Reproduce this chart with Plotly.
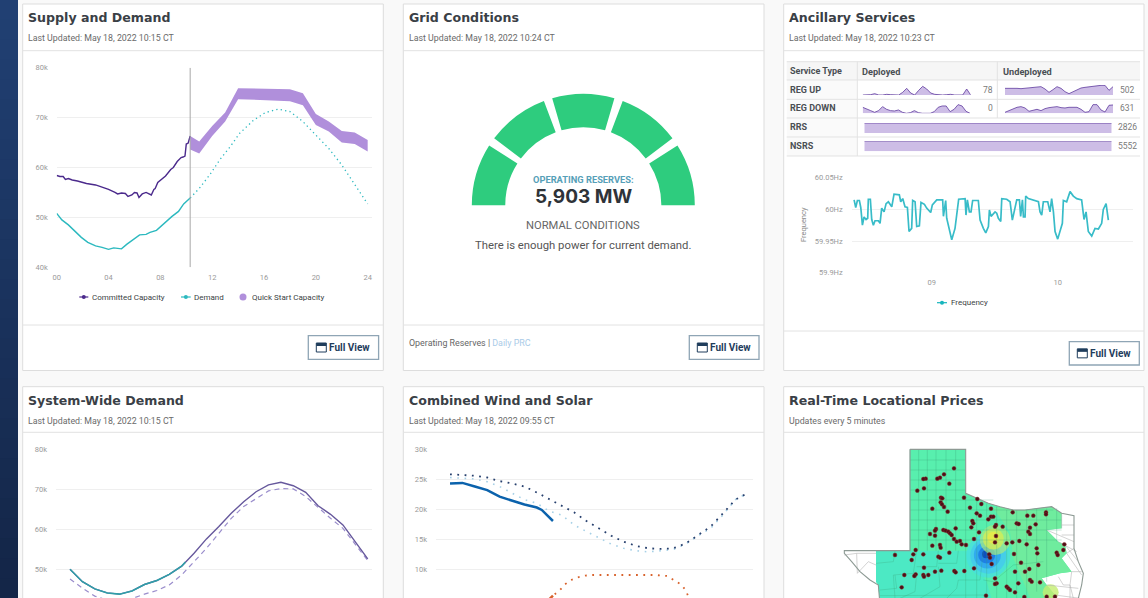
import plotly.graph_objects as go

W, H = 1148, 598

# ---------------- DATA ----------------
hour_ticks = [0, 4, 8, 12, 16, 20, 24]
hour_labels = ["00", "04", "08", "12", "16", "20", "24"]
supply_y_ticks = [40000, 50000, 60000, 70000, 80000]
supply_y_labels = ["40k", "50k", "60k", "70k", "80k"]

committed_h = [0, 0.25, 0.5, 0.67, 0.9, 1.2, 1.6, 2.3, 3.0, 3.4, 3.5, 4.0, 4.5, 4.7, 5.0, 5.3, 5.5, 5.8, 6.0, 6.2, 6.35, 6.6, 6.9, 7.1, 7.3, 7.5, 7.6, 7.8, 8.0, 8.4, 8.8, 9.0, 9.3, 9.6, 9.75, 9.9, 10.0, 10.15, 10.3]
committed_k = [58.4, 58.2, 58.2, 57.6, 57.8, 57.5, 57.3, 56.8, 56.5, 56.2, 56.0, 55.6, 55.0, 54.7, 54.9, 54.8, 54.2, 54.5, 55.0, 54.9, 54.0, 54.7, 55.0, 54.8, 54.5, 55.6, 55.8, 57.0, 57.5, 58.3, 59.6, 60.0, 61.2, 62.0, 62.1, 62.3, 64.7, 64.9, 66.3]
demand_h = [0, 0.4, 0.9, 1.4, 1.9, 2.4, 3.0, 3.5, 4.0, 4.4, 4.8, 5.0, 5.4, 6.0, 6.4, 6.9, 7.2, 7.7, 8.4, 8.9, 9.4, 9.8, 10.3]
demand_k = [50.8, 49.5, 48.5, 47.2, 46.0, 45.0, 44.3, 44.0, 43.6, 43.9, 43.7, 43.7, 44.6, 45.7, 46.5, 46.6, 47.0, 47.4, 49.1, 50.2, 51.2, 52.7, 53.9]
forecast_h = [10.3, 11, 11.8, 12.6, 13.4, 14.1, 15.2, 16.1, 17.1, 18, 19, 20, 21, 22, 23.1, 24]
forecast_k = [53.9, 55.8, 58.5, 61.6, 64.2, 66.8, 69.5, 71.0, 71.7, 71.2, 69.2, 66.5, 63.8, 60.5, 56.2, 52.7]
quick_h = [10.3, 11, 12, 13, 14, 15, 16, 17, 18, 19, 20, 21, 22, 23, 24]
quick_top_k = [66.3, 65.2, 68.3, 71.0, 75.9, 75.85, 75.8, 75.75, 75.7, 74.9, 70.7, 69.2, 67.3, 67.0, 65.5]
quick_bot_k = [63.6, 62.8, 66.3, 69.2, 73.7, 73.6, 73.5, 73.4, 73.3, 72.5, 68.5, 67.2, 65.0, 64.7, 63.2]
now_hour = 10.3

gauge_values = [32.4, 4.5, 32.4, 4.5, 32.4, 4.5, 32.4, 4.5, 32.4, 180]
gauge_colors = ["#2ecc7e", "rgba(0,0,0,0)"] * 4 + ["#2ecc7e", "rgba(0,0,0,0)"]

reg_up_dep = [0, 0, 1, 4, 0, 0, 2, 1, 0, 0, 8, 20, 6, 0, 14, 26, 18, 6, 2, 0, 0, 1, 2, 0, 0, 0, 18, 0]
reg_up_und = [20, 20, 22, 20, 19, 20, 21, 22, 25, 25, 18, 8, 16, 25, 20, 10, 4, 10, 16, 21, 23, 25, 26, 28, 29, 29, 14, 25]
reg_dn_dep = [18, 14, 8, 3, 8, 20, 12, 8, 7, 10, 3, 0, 2, 8, 2, 0, 0, 0, 5, 18, 22, 22, 5, 12, 26, 22, 6, 0]
reg_dn_und = [3, 8, 14, 18, 20, 16, 6, 10, 12, 8, 14, 17, 19, 20, 17, 16, 18, 19, 18, 12, 3, 5, 26, 26, 10, 4, 24, 25]
rrs_vals = [2826, 2826, 2826, 2826, 2826, 2826, 2826, 2826, 2800, 2800]
nsrs_vals = [5552, 5552, 5552, 5552, 5552, 5552, 5552, 5552, 5552, 5552]

freq_h = [8.384, 8.397, 8.410, 8.426, 8.437, 8.450, 8.463, 8.479, 8.492, 8.497, 8.513, 8.524, 8.537, 8.550, 8.577, 8.590, 8.603, 8.622, 8.638, 8.656, 8.683, 8.701, 8.743, 8.754, 8.770, 8.788, 8.807, 8.820, 8.841, 8.849, 8.868, 8.881, 8.902, 8.915, 8.942, 8.960, 8.992, 9.005, 9.040, 9.087, 9.093, 9.111, 9.119, 9.138, 9.159, 9.185, 9.198, 9.214, 9.265, 9.272, 9.283, 9.299, 9.312, 9.325, 9.370, 9.384, 9.410, 9.429, 9.450, 9.458, 9.471, 9.503, 9.516, 9.529, 9.548, 9.556, 9.595, 9.622, 9.640, 9.656, 9.675, 9.696, 9.706, 9.720, 9.728, 9.741, 9.746, 9.767, 9.807, 9.847, 9.860, 9.873, 9.886, 9.921, 9.939, 9.952, 9.966, 9.979, 10.0, 10.019, 10.037, 10.045, 10.071, 10.098, 10.124, 10.151, 10.190, 10.209, 10.225, 10.243, 10.270, 10.296, 10.323, 10.349, 10.362, 10.384, 10.402]
freq_hz = [60.015, 60.003, 60.014, 60.014, 60.003, 59.975, 59.988, 59.984, 59.986, 60.016, 60.016, 59.984, 59.975, 59.982, 59.982, 59.978, 60.002, 59.996, 60.009, 60.012, 60.004, 60.024, 60.023, 60.012, 60.017, 60.004, 60.003, 59.965, 59.970, 60.014, 60.012, 59.973, 59.974, 60.011, 60.008, 60.002, 59.995, 60.007, 60.015, 60.015, 59.989, 60.014, 59.986, 59.967, 59.952, 59.970, 59.988, 60.016, 60.017, 59.991, 60.015, 59.996, 59.996, 60.014, 60.014, 59.983, 59.970, 59.963, 59.973, 59.999, 59.989, 59.996, 59.994, 59.986, 59.981, 60.017, 60.016, 60.012, 59.983, 59.999, 60.015, 60.015, 59.989, 60.015, 59.988, 59.988, 60.021, 60.017, 60.014, 60.012, 59.996, 59.991, 60.012, 60.012, 59.996, 60.017, 59.996, 59.965, 59.953, 59.965, 59.978, 60.014, 60.012, 60.028, 60.021, 60.017, 60.015, 59.984, 59.996, 59.965, 59.958, 59.970, 59.969, 59.978, 60.0, 60.009, 59.983]
freq_ticks = [59.9, 59.95, 60, 60.05]
freq_tick_labels = ["59.9Hz", "59.95Hz", "60Hz", "60.05Hz"]

sys_hours = list(range(25))
sys_actual_k = [50.0, 46.9, 45.1, 44.1, 43.8, 44.6, 46.2, 47.2, 48.75, 50.8, 54.0, 57.6, 60.7, 64.0, 66.9, 69.4, 71.1, 71.75, 70.9, 69.25, 65.9, 63.75, 61.1, 56.9, 52.6]
sys_fcst_k = [47.6, 45.3, 43.3, 42.3, 41.9, 42.7, 43.8, 44.7, 46.1, 48.6, 51.9, 55.25, 59.0, 62.75, 65.7, 67.75, 69.6, 70.2, 70.1, 68.2, 65.4, 62.75, 60.25, 56.1, 52.2]
sys_today_h = [0, 1, 2, 3, 4, 5, 6, 7, 8, 9, 9.3]
sys_today_k = [50.0, 46.9, 45.1, 44.1, 43.8, 44.6, 46.2, 47.2, 48.75, 50.8, 51.8]

wind_h = [0, 1, 2, 3, 4, 5, 6, 7, 7.4, 8.3]
wind_k = [24.3, 24.4, 23.8, 23.2, 22.1, 21.4, 20.8, 20.3, 19.9, 18.05]
wind_fcst_dark_k = [25.83, 25.72, 25.6, 25.3, 24.7, 24.3, 23.8, 22.8, 21.7, 20.6, 19.5, 18.05, 16.8, 15.6, 14.6, 13.9, 13.5, 13.4, 13.5, 14.3, 15.7, 17.1, 19.3, 21.6, 22.7]
wind_fcst_light_k = [25.3, 25.2, 25.05, 24.6, 23.8, 22.7, 21.6, 21.0, 19.7, 19.05, 17.4, 16.3, 15.3, 14.2, 13.5, 13.1, 12.9, 13.05, 13.3, 14.2, 15.6, 16.8, 19.05, 21.6, 22.7]
solar_fcst_h = [7.0, 7.6, 8.3, 8.87, 9.27, 9.73, 10.3, 10.9, 11.5, 12.5, 13.5, 14.5, 15.5, 16.5, 17.5, 18.1, 18.6, 19, 19.2, 19.6, 20.2]
solar_fcst_k = [2.0, 3.5, 5.6, 6.55, 7.5, 8.2, 8.67, 8.95, 9.05, 9.05, 9.05, 9.05, 9.05, 9.05, 8.9, 8.2, 7.5, 6.55, 5.45, 3.5, 1.5]
solar_h = [7.0, 7.6, 8.0, 8.3]
solar_k = [2.0, 3.5, 5.0, 5.6]
wind_y_ticks = [5000, 10000, 15000, 20000, 25000, 30000]
wind_y_labels = ["5k", "10k", "15k", "20k", "25k", "30k"]

# Map, in map units
tx_outline_x = [390, 557, 557, 590, 625, 660, 700, 735, 770, 815, 845, 882, 882, 895, 910, 905, 895, 885, 885, 300, 295, 270, 240, 215, 193, 193, 390, 390]
tx_outline_y = [193, 193, 325, 340, 355, 365, 375, 375, 370, 365, 385, 392, 490, 530, 565, 600, 640, 660, 660, 660, 600, 585, 560, 530, 505, 497, 497, 193]
green_x = [390, 557, 557, 590, 625, 660, 700, 735, 770, 815, 845, 845, 800, 820, 835, 855, 860, 845, 860, 875, 840, 800, 785, 800, 825, 835, 300, 295, 288, 288, 390]
green_y = [193, 193, 325, 340, 355, 365, 375, 375, 370, 365, 385, 430, 435, 455, 470, 480, 505, 520, 540, 560, 565, 575, 580, 600, 630, 660, 660, 600, 590, 497, 497]
west_zone_x = [288, 570, 590, 620, 640, 300, 295, 288]
west_zone_y = [497, 497, 540, 590, 660, 660, 600, 590]
east_zone_x = [640, 660, 700, 735, 770, 815, 845, 845, 800, 820, 835, 855, 860, 845, 860, 875, 840, 800, 785, 800, 825, 835, 760, 730, 700, 690]
east_zone_y = [370, 365, 375, 375, 370, 365, 385, 430, 435, 455, 470, 480, 505, 520, 540, 560, 565, 575, 580, 600, 630, 660, 660, 590, 520, 440]
spot_x = [625, 625, 622, 620, 618, 645, 640, 640, 812]
spot_y = [512, 512, 510, 510, 508, 465, 462, 458, 622]
spot_size = [44, 36, 27, 17, 8, 30, 21, 12, 16]
spot_color = ["#47dfe0", "#44c8ec", "#2ea4ee", "#1c78e2", "#0c4ab8", "#a8ec80", "#d2ec58", "#e8ea48", "#c4ee70"]
spot_alpha = [0.75, 0.8, 0.85, 0.85, 0.9, 0.7, 0.8, 0.85, 0.8]
county_v = [416, 442, 468, 498, 527, 390, 557, 590, 620, 650, 680, 710, 740, 770, 800, 830]
county_v_top = [193, 193, 193, 193, 193, 193, 325, 340, 355, 365, 375, 375, 375, 370, 370, 370]
county_v_bot = [497, 497, 497, 497, 497, 497, 640, 640, 640, 640, 640, 640, 640, 620, 590, 470]
county_h = [225, 255, 285, 315, 345, 375, 405, 435, 465]
county_h_left = [390, 390, 390, 390, 390, 390, 390, 390, 390]
county_h_right = [557, 557, 557, 557, 640, 820, 845, 845, 845]
south_x = [288, 340, 345, None, 340, 400, 410, None, 410, 470, 475, None, 475, 530, 535, None, 535, 600, 610, None, 345, 350, 300, None, 410, 405, 360, None, 475, 480, 420, None, 535, 530, 500, None, 300, 620, None, 340, 345, None, 610, 640, 700, 790]
south_y = [535, 530, 497, None, 570, 565, 497, None, 545, 545, 497, None, 535, 535, 497, None, 585, 585, 497, None, 570, 610, 615, None, 565, 620, 640, None, 545, 605, 640, None, 585, 610, 640, None, 632, 630, None, 570, 640, None, 585, 590, 540, 530]
white_x = [193, 230, 288, None, 230, 232, 265, None, 288, 265, None, 845, 882, None, 845, 882, None, 800, 882, None, 835, 890, None, 855, 895, None, 860, 905, None, 875, 905, None, 800, 895, None, 845, 845, None, 882, 860, None, 875, 870, 880, None, 825, 900, None, 835, 850, 870, 870]
white_y = [510, 505, 505, None, 505, 565, 530, None, 540, 530, None, 420, 420, None, 450, 450, None, 435, 470, None, 470, 500, None, 480, 530, None, 505, 570, None, 560, 560, None, 600, 610, None, 385, 430, None, 490, 505, None, 560, 600, 640, None, 630, 640, None, 575, 600, 600, 640]
node_x = [522, 492, 480, 472, 437, 430, 508, 432, 412, 483, 487, 552, 482, 486, 492, 457, 503, 570, 592, 604, 633, 590, 600, 698, 742, 760, 798, 798, 633, 640, 625, 577, 580, 574, 648, 645, 668, 710, 716, 750, 767, 745, 750, 468, 465, 490, 497, 505, 510, 527, 597, 582, 450, 465, 515, 522, 530, 540, 545, 558, 648, 645, 680, 697, 718, 740, 457, 480, 482, 407, 345, 430, 395, 400, 508, 475, 480, 628, 630, 635, 432, 484, 465, 407, 403, 373, 430, 432, 445, 523, 527, 553, 582, 705, 735, 748, 775, 772, 770, 702, 830, 833, 850, 853, 723, 365, 645, 650, 680, 685, 690, 705, 645, 750, 755, 780, 715, 618, 733, 800, 825]
node_y = [250, 268, 278, 281, 281, 282, 296, 310, 317, 338, 340, 338, 352, 358, 366, 371, 380, 368, 342, 357, 371, 385, 392, 382, 392, 392, 382, 388, 395, 395, 403, 408, 415, 427, 420, 425, 425, 415, 417, 428, 418, 440, 447, 432, 437, 435, 437, 440, 445, 430, 442, 462, 447, 452, 450, 462, 470, 468, 478, 480, 453, 472, 475, 472, 468, 478, 482, 480, 488, 495, 510, 508, 525, 508, 503, 515, 518, 508, 518, 537, 548, 557, 560, 568, 573, 570, 570, 575, 570, 558, 562, 558, 550, 560, 560, 552, 540, 505, 490, 507, 503, 510, 495, 478, 533, 607, 580, 595, 605, 610, 615, 622, 597, 585, 590, 592, 595, 632, 636, 635, 635]

# ---------------- HELPERS ----------------
def px(x):
    return x / W

def py(y):
    return 1 - y / H

shapes = []
annots = []

def rect(x0, y0, x1, y1, fill=None, line=None, lw=1):
    shapes.append(dict(type="rect", xref="paper", yref="paper", layer="below",
                       x0=px(x0), x1=px(x1), y0=py(y0), y1=py(y1),
                       fillcolor=fill or "rgba(0,0,0,0)",
                       line=dict(color=line or "rgba(0,0,0,0)", width=lw if line else 0)))

def hline(x0, x1, y, color="#e2e2e2", lw=1):
    shapes.append(dict(type="line", xref="paper", yref="paper", layer="below",
                       x0=px(x0), x1=px(x1), y0=py(y), y1=py(y), line=dict(color=color, width=lw)))

def vline(x, y0, y1, color="#e2e2e2", lw=1, layer="below"):
    shapes.append(dict(type="line", xref="paper", yref="paper", layer=layer,
                       x0=px(x), x1=px(x), y0=py(y0), y1=py(y1), line=dict(color=color, width=lw)))

def text(x, y, s, size=8, color="#555", family="Roboto", anchor="left", angle=0):
    annots.append(dict(xref="paper", yref="paper", x=px(x), y=py(y), text=s, showarrow=False,
                       xanchor=anchor, yanchor="middle", textangle=angle, borderpad=0, borderwidth=0,
                       font=dict(size=size, color=color, family=family)))

TITLE_FONT = "DejaVu Sans"
def card(x0, x1, y0, y1, title, sub, ydiv=None, yfoot=None):
    rect(x0, y0, x1, y1, fill="#ffffff", line="#dddddd", lw=1)
    hline(x0, x1, ydiv)
    if yfoot:
        hline(x0, x1, yfoot)
    text(x0 + 5.5, y0 + 13.5, "<b>" + title + "</b>", size=12.6, color="#3a4046", family=TITLE_FONT)
    text(x0 + 5.5, y0 + 34, sub, size=8.8, color="#6a6a6a")

def button(x0, y0, x1, y1):
    rect(x0, y0, x1, y1, fill="#ffffff", line="#8fa5b5", lw=1.3)
    cy = (y0 + y1) / 2
    rect(x0 + 8, cy - 4.5, x0 + 18, cy + 4.5, fill="#ffffff", line="#1f3d5c", lw=1)
    rect(x0 + 8, cy - 4.5, x0 + 18, cy - 1.5, fill="#1f3d5c")
    text(x0 + 20.5, cy, "<b>Full View</b>", size=10, color="#1f3d5c")

# ---------------- PAGE ----------------
for i in range(30):
    t = i / 29
    c = "rgb(%d,%d,%d)" % (33 - 13 * t, 64 - 26 * t, 115 - 43 * t)
    rect(0, H * i / 30, 18, H * (i + 1) / 30 + 1, fill=c)

card(22.7, 383.3, 4, 370.5, "Supply and Demand", "Last Updated: May 18, 2022 10:15 CT", 50.7, 325)
card(403.3, 764, 4, 370.5, "Grid Conditions", "Last Updated: May 18, 2022 10:24 CT", 50.7, 325)
card(783.7, 1144, 4, 370.5, "Ancillary Services", "Last Updated: May 18, 2022 10:23 CT", 50.7, 331)
card(22.7, 383.3, 386.7, 610, "System-Wide Demand", "Last Updated: May 18, 2022 10:15 CT", 432.3)
card(403.3, 764, 386.7, 610, "Combined Wind and Solar", "Last Updated: May 18, 2022 09:55 CT", 432.3)
card(783.7, 1144, 386.7, 610, "Real-Time Locational Prices", "Updates every 5 minutes", 432.3)
button(308.3, 335.7, 378.6, 359.3)
button(689.3, 335.7, 759, 359.3)
button(1069.3, 341.7, 1139.3, 365)

fig = go.Figure()
axes = {}
ax_n = [0]

def add_axes(x0, x1, y0, y1, xr, yr, xcfg=None, ycfg=None):
    """Create an axis pair placed at the given pixel box; returns trace refs."""
    ax_n[0] += 1
    n = ax_n[0]
    s = "" if n == 1 else str(n)
    xa = dict(domain=[px(x0), px(x1)], range=xr, visible=False, anchor="y" + s, fixedrange=True)
    ya = dict(domain=[py(y1), py(y0)], range=yr, visible=False, anchor="x" + s, fixedrange=True)
    xa.update(xcfg or {})
    ya.update(ycfg or {})
    axes["xaxis" + s] = xa
    axes["yaxis" + s] = ya
    return "x" + s, "y" + s

GRID = "#efefef"
LABEL = "#9a9a9a"
def xticks(vals, labels):
    return dict(visible=True, tickvals=vals, ticktext=labels, showgrid=False, zeroline=False, ticks="",
                showline=False, tickfont=dict(size=7.5, color=LABEL, family="Roboto"), ticklabelstandoff=4)

def yticks(vals, labels):
    return dict(visible=True, tickvals=vals, ticktext=labels, showgrid=True, gridcolor=GRID, gridwidth=1,
                zeroline=False, ticks="", showline=False,
                tickfont=dict(size=7.5, color=LABEL, family="Roboto"), ticklabelstandoff=8)

def k(vs):
    return [v * 1000 for v in vs]

# ---- Supply and demand
x_a, y_a = add_axes(56.7, 371.7, 67.7, 267.3, [0, 24.31], [40000, 80000],
                    xticks(hour_ticks, hour_labels), yticks(supply_y_ticks, supply_y_labels))
PURPLE_D, TEAL, LAV = "#4b2a8c", "#2cb9bf", "#b08fdb"
fig.add_trace(go.Scatter(x=quick_h, y=k(quick_top_k), xaxis=x_a, yaxis=y_a, mode="lines", line=dict(width=0, color=LAV), showlegend=False, hoverinfo="skip"))
fig.add_trace(go.Scatter(x=quick_h, y=k(quick_bot_k), xaxis=x_a, yaxis=y_a, mode="lines", line=dict(width=0, color=LAV), fill="tonexty", fillcolor=LAV, name="Quick Start Capacity", showlegend=False))
fig.add_trace(go.Scatter(x=committed_h, y=k(committed_k), xaxis=x_a, yaxis=y_a, mode="lines", line=dict(width=1.4, color=PURPLE_D), name="Committed Capacity", showlegend=False))
fig.add_trace(go.Scatter(x=demand_h, y=k(demand_k), xaxis=x_a, yaxis=y_a, mode="lines", line=dict(width=1.4, color=TEAL), name="Demand", showlegend=False))
fig.add_trace(go.Scatter(x=forecast_h, y=k(forecast_k), xaxis=x_a, yaxis=y_a, mode="lines", line=dict(width=1.3, color=TEAL, dash="1.3px,3.2px"), name="Demand forecast", showlegend=False))
fig.add_trace(go.Scatter(x=[now_hour, now_hour], y=[40000, 80000], xaxis=x_a, yaxis=y_a, mode="lines", line=dict(width=1, color="#a8a8a8"), showlegend=False, hoverinfo="skip"))

def key_line(x0, x1, y, color):
    hline(x0, x1, y, color=color, lw=1.2)
    cx = (x0 + x1) / 2
    shapes.append(dict(type="circle", xref="paper", yref="paper", layer="below", x0=px(cx - 2), x1=px(cx + 2), y0=py(y + 2), y1=py(y - 2), fillcolor=color, line=dict(width=0)))

LEG_TXT = "#3b3f44"
key_line(79.3, 88.3, 297, PURPLE_D)
text(92, 297, "Committed Capacity", size=8, color=LEG_TXT, family="Roboto")
key_line(181, 190.7, 297, TEAL)
text(194, 297, "Demand", size=8, color=LEG_TXT)
shapes.append(dict(type="circle", xref="paper", yref="paper", layer="below", x0=px(239.5), x1=px(246.5), y0=py(300.5), y1=py(293.5), fillcolor=LAV, line=dict(width=0)))
text(251.5, 297, "Quick Start Capacity", size=8, color=LEG_TXT)

# ---- Gauge
fig.add_trace(go.Pie(values=gauge_values, sort=False, direction="clockwise", rotation=270, hole=0.70,
                     marker=dict(colors=gauge_colors, line=dict(width=0)), textinfo="none", hoverinfo="skip",
                     showlegend=False,
                     domain=dict(x=[px(583.3 - 111.5), px(583.3 + 111.5)], y=[py(205.3 + 111.5), py(205.3 - 111.5)])))
text(583.3, 179, "<b>OPERATING RESERVES:</b>", size=9.3, color="#56a0b8", anchor="center")
text(583.3, 196.5, "<b>5,903 MW</b>", size=19, color="#2f3338", family="Inter", anchor="center")
text(583.3, 225.7, "NORMAL CONDITIONS", size=11.2, color="#666666", anchor="center")
text(583.3, 245, "There is enough power for current demand.", size=11.3, color="#555555", anchor="center")
text(408.5, 343.3, 'Operating Reserves | <span style="color:#a9cbe8">Daily PRC</span>', size=8.9, color="#666666")

# ---- Ancillary table
TBL = "#e3e3e3"
rect(786.7, 61.7, 1140, 80, fill="#f6f6f6")
rect(786.7, 80, 857.3, 156, fill="#fafafa")
for yy in [61.7, 80, 99.3, 118, 137, 156]:
    hline(786.7, 1140, yy, color=TBL)
vline(857.3, 61.7, 156, color=TBL)
vline(997.3, 61.7, 118, color=TBL)
text(790, 71, "<b>Service Type</b>", size=9, color="#4a4f54")
text(862, 71, "<b>Deployed</b>", size=9.2, color="#4a4f54")
text(1003, 71, "<b>Undeployed</b>", size=9.2, color="#4a4f54")
for yy, s in [(89.5, "REG UP"), (108.3, "REG DOWN"), (127, "RRS"), (146, "NSRS")]:
    text(790, yy, "<b>" + s + "</b>", size=9, color="#4a4f54")
for xx, yy, s in [(988, 89.5, "78"), (1127, 89.5, "502"), (990, 108.3, "0"), (1127, 108.3, "631"), (1127, 127, "2826"), (1127, 146, "5552")]:
    text(xx, yy, s, size=8.5, color="#7a7a7a", anchor="center")

SPARK_F, SPARK_L = "#cdbde6", "#5f3b9e"
def spark(vals, x0, x1, y0, y1, ymax):
    xa, ya = add_axes(x0, x1, y0, y1, [0, len(vals) - 1], [0, ymax])
    fig.add_trace(go.Scatter(x=list(range(len(vals))), y=vals, xaxis=xa, yaxis=ya, mode="lines", fill="tozeroy",
                             fillcolor=SPARK_F, line=dict(color=SPARK_L, width=0.8), showlegend=False, hoverinfo="skip"))

spark(reg_up_dep, 862.7, 970.7, 85, 95, 30)
spark(reg_up_und, 1005, 1113, 85, 95, 30)
spark(reg_dn_dep, 862.7, 970, 103.3, 113.3, 30)
spark(reg_dn_und, 1005, 1113, 103.3, 113.3, 30)
spark(rrs_vals, 864.3, 1111.7, 123, 133, 2826)
spark(nsrs_vals, 864.3, 1111.7, 141.3, 151.3, 5552)

# ---- Frequency
x_f, y_f = add_axes(851.7, 1133.3, 177.7, 272.7, [8.365, 10.6], [59.9, 60.05],
                    xticks([9, 10], ["09", "10"]), yticks(freq_ticks, freq_tick_labels))
fig.add_trace(go.Scatter(x=freq_h, y=freq_hz, xaxis=x_f, yaxis=y_f, mode="lines", line=dict(width=1.7, color="#38bcc8"), name="Frequency", showlegend=False))
text(803, 225, "Frequency", size=7.5, color="#8a8a8a", anchor="center", angle=-90)
key_line(937, 947, 302.7, "#16b5bd")
text(951, 302.7, "Frequency", size=8, color=LEG_TXT)

# ---- System-wide
x_s, y_s = add_axes(56, 371.7, 449.3, 598, [-1.13, 24.32], [42830, 80000],
                    None, yticks([50000, 60000, 70000, 80000], ["50k", "60k", "70k", "80k"]))
fig.add_trace(go.Scatter(x=sys_hours, y=k(sys_fcst_k), xaxis=x_s, yaxis=y_s, mode="lines", line=dict(width=1.2, color="#9a8dcc", dash="5px,4px"), name="Forecast", showlegend=False))
fig.add_trace(go.Scatter(x=sys_hours, y=k(sys_actual_k), xaxis=x_s, yaxis=y_s, mode="lines", line=dict(width=1.4, color="#66589c"), name="Actual", showlegend=False))
fig.add_trace(go.Scatter(x=sys_today_h, y=k(sys_today_k), xaxis=x_s, yaxis=y_s, mode="lines", line=dict(width=1.5, color="#2f9fa8"), name="Today", showlegend=False))

# ---- Wind and solar
x_w, y_w = add_axes(436, 753, 449.3, 598, [-1.13, 24.43], [5220, 30000],
                    None, yticks(wind_y_ticks, wind_y_labels))
fig.add_trace(go.Scatter(x=sys_hours, y=k(wind_fcst_light_k), xaxis=x_w, yaxis=y_w, mode="lines", line=dict(width=1.6, color="#a6d0e6", dash="1.6px,5.7px"), showlegend=False, name="Wind forecast B"))
fig.add_trace(go.Scatter(x=sys_hours, y=k(wind_fcst_dark_k), xaxis=x_w, yaxis=y_w, mode="lines", line=dict(width=1.8, color="#27406e", dash="1.8px,5.5px"), showlegend=False, name="Wind forecast A"))
fig.add_trace(go.Scatter(x=wind_h, y=k(wind_k), xaxis=x_w, yaxis=y_w, mode="lines", line=dict(width=2.5, color="#0b62ac"), showlegend=False, name="Wind"))
fig.add_trace(go.Scatter(x=solar_fcst_h, y=k(solar_fcst_k), xaxis=x_w, yaxis=y_w, mode="lines", line=dict(width=1.8, color="#d8622c", dash="1.8px,5.5px"), showlegend=False, name="Solar forecast"))
fig.add_trace(go.Scatter(x=solar_h, y=k(solar_k), xaxis=x_w, yaxis=y_w, mode="lines", line=dict(width=2.5, color="#d8622c"), showlegend=False, name="Solar"))

# ---- Map
x_m, y_m = add_axes(786, 1142, 436, 598, [18, 1086], [639, 153])
def zone(xs, ys, color):
    fig.add_trace(go.Scatter(x=xs, y=ys, xaxis=x_m, yaxis=y_m, mode="lines", fill="toself", fillcolor=color, line=dict(width=0), showlegend=False, hoverinfo="skip"))
zone(green_x, green_y, "#58efae")
zone(west_zone_x, west_zone_y, "#4ce9c4")
zone(east_zone_x, east_zone_y, "#6fec9e")
fig.add_trace(go.Scatter(x=spot_x, y=spot_y, xaxis=x_m, yaxis=y_m, mode="markers", marker=dict(size=spot_size, color=spot_color, opacity=spot_alpha, line=dict(width=0)), showlegend=False, hoverinfo="skip"))
cx, cy = [], []
for v, a, b in zip(county_v, county_v_top, county_v_bot):
    cx += [v, v, None]
    cy += [a, b, None]
for h, a, b in zip(county_h, county_h_left, county_h_right):
    cx += [a, b, None]
    cy += [h, h, None]
MAP_LINE = "rgba(60,160,120,0.55)"
fig.add_trace(go.Scatter(x=cx, y=cy, xaxis=x_m, yaxis=y_m, mode="lines", line=dict(width=0.5, color=MAP_LINE), showlegend=False, hoverinfo="skip"))
fig.add_trace(go.Scatter(x=south_x, y=south_y, xaxis=x_m, yaxis=y_m, mode="lines", line=dict(width=0.5, color=MAP_LINE), showlegend=False, hoverinfo="skip"))
fig.add_trace(go.Scatter(x=white_x, y=white_y, xaxis=x_m, yaxis=y_m, mode="lines", line=dict(width=0.6, color="#b5b5b5"), showlegend=False, hoverinfo="skip"))
fig.add_trace(go.Scatter(x=tx_outline_x, y=tx_outline_y, xaxis=x_m, yaxis=y_m, mode="lines", line=dict(width=1.1, color="#8d9a94"), showlegend=False, hoverinfo="skip"))
fig.add_trace(go.Scatter(x=node_x, y=node_y, xaxis=x_m, yaxis=y_m, mode="markers", marker=dict(size=3.8, color="#4c0f18", line=dict(width=0.5, color="#8a2a2a")), showlegend=False, name="Nodes"))

fig.update_layout(template="none", width=W, height=H, margin=dict(l=0, r=0, t=0, b=0, pad=0), autosize=False,
                  paper_bgcolor="#f9f9f9", plot_bgcolor="rgba(0,0,0,0)", showlegend=False,
                  shapes=shapes, annotations=annots, **axes)
fig.write_html("out.html", config={"displayModeBar": False},
               post_script="document.body.style.margin='0';document.body.style.overflow='hidden';")
